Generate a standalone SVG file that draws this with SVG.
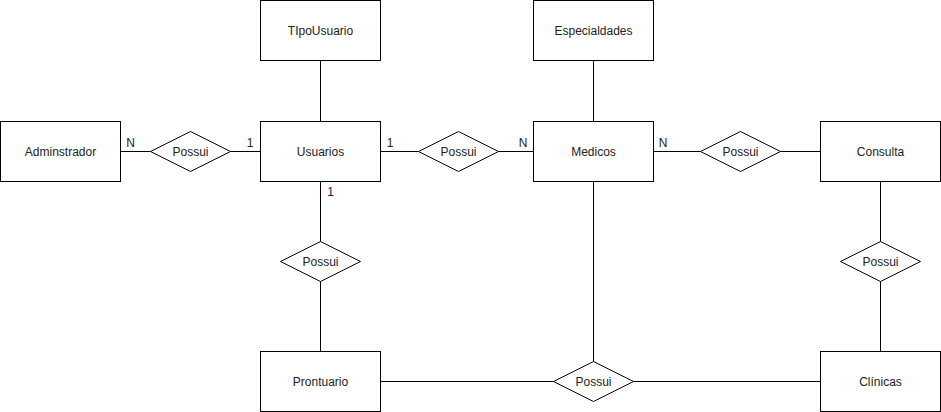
<svg xmlns="http://www.w3.org/2000/svg" width="941" height="412" viewBox="0 0 941 412">
<style>
.e{fill:#fff;stroke:#000;stroke-width:1}
.r{fill:#fff;stroke:#000;stroke-width:1}
.c{fill:none;stroke:#000;stroke-width:1}
text{font-family:"Liberation Sans",Arial,Helvetica,sans-serif;font-size:12px;fill:#222}
.m{text-anchor:middle;dominant-baseline:central}
</style>
<rect width="941" height="412" fill="#fff"/>
<g id="connectors">
<path class="c" d="M120.5 151.5H150.5M230.5 151.5H260.5"/>
<path class="c" d="M320.5 60.5V121.5"/>
<path class="c" d="M380.5 151.5H418.5M498.5 151.5H533.5"/>
<path class="c" d="M593.5 60.5V121.5"/>
<path class="c" d="M653.5 151.5H700.5M780.5 151.5H820.5"/>
<path class="c" d="M320.5 181.5V241.5M320.5 281.5V351.5"/>
<path class="c" d="M880.5 181.5V241.5M880.5 281.5V351.5"/>
<path class="c" d="M593.5 181.5V361.5"/>
<path class="c" d="M380.5 381.5H553.5M633.5 381.5H820.5"/>
<text x="130.5" y="142.5" class="m">N</text>
<text x="250" y="142.5" class="m">1</text>
<text x="390" y="142.5" class="m">1</text>
<text x="523" y="142.5" class="m">N</text>
<text x="663" y="142.5" class="m">N</text>
<text x="330.5" y="191.5" class="m">1</text>
</g>
<g id="adminstrador"><rect class="e" x="0.5" y="121.5" width="120" height="60"/><text x="60.5" y="151.5" class="m">Adminstrador</text></g>
<g id="tipousuario"><rect class="e" x="260.5" y="0.5" width="120" height="60"/><text x="320.5" y="31" class="m">TIpoUsuario</text></g>
<g id="usuarios"><rect class="e" x="260.5" y="121.5" width="120" height="60"/><text x="320.5" y="151.5" class="m">Usuarios</text></g>
<g id="especialdades"><rect class="e" x="533.5" y="0.5" width="120" height="60"/><text x="593.5" y="31" class="m">Especialdades</text></g>
<g id="medicos"><rect class="e" x="533.5" y="121.5" width="120" height="60"/><text x="593.5" y="151.5" class="m">Medicos</text></g>
<g id="consulta"><rect class="e" x="820.5" y="121.5" width="120" height="60"/><text x="880.5" y="151.5" class="m">Consulta</text></g>
<g id="prontuario"><rect class="e" x="260.5" y="351.5" width="120" height="60"/><text x="320.5" y="381.5" class="m">Prontuario</text></g>
<g id="clinicas"><rect class="e" x="820.5" y="351.5" width="120" height="60"/><text x="880.5" y="381.5" class="m">Clínicas</text></g>
<g id="possui-admin"><polygon class="r" points="150.5,151.5 190.5,131.5 230.5,151.5 190.5,171.5"/><text x="190.5" y="151.5" class="m">Possui</text></g>
<g id="possui-medicos"><polygon class="r" points="418.5,151.5 458.5,131.5 498.5,151.5 458.5,171.5"/><text x="458.5" y="151.5" class="m">Possui</text></g>
<g id="possui-consulta"><polygon class="r" points="700.5,151.5 740.5,131.5 780.5,151.5 740.5,171.5"/><text x="740.5" y="151.5" class="m">Possui</text></g>
<g id="possui-prontuario"><polygon class="r" points="280.5,261.5 320.5,241.5 360.5,261.5 320.5,281.5"/><text x="320.5" y="261.5" class="m">Possui</text></g>
<g id="possui-clinicas"><polygon class="r" points="840.5,261.5 880.5,241.5 920.5,261.5 880.5,281.5"/><text x="880.5" y="261.5" class="m">Possui</text></g>
<g id="possui-bottom"><polygon class="r" points="553.5,381.5 593.5,361.5 633.5,381.5 593.5,401.5"/><text x="593.5" y="381.5" class="m">Possui</text></g>
</svg>
